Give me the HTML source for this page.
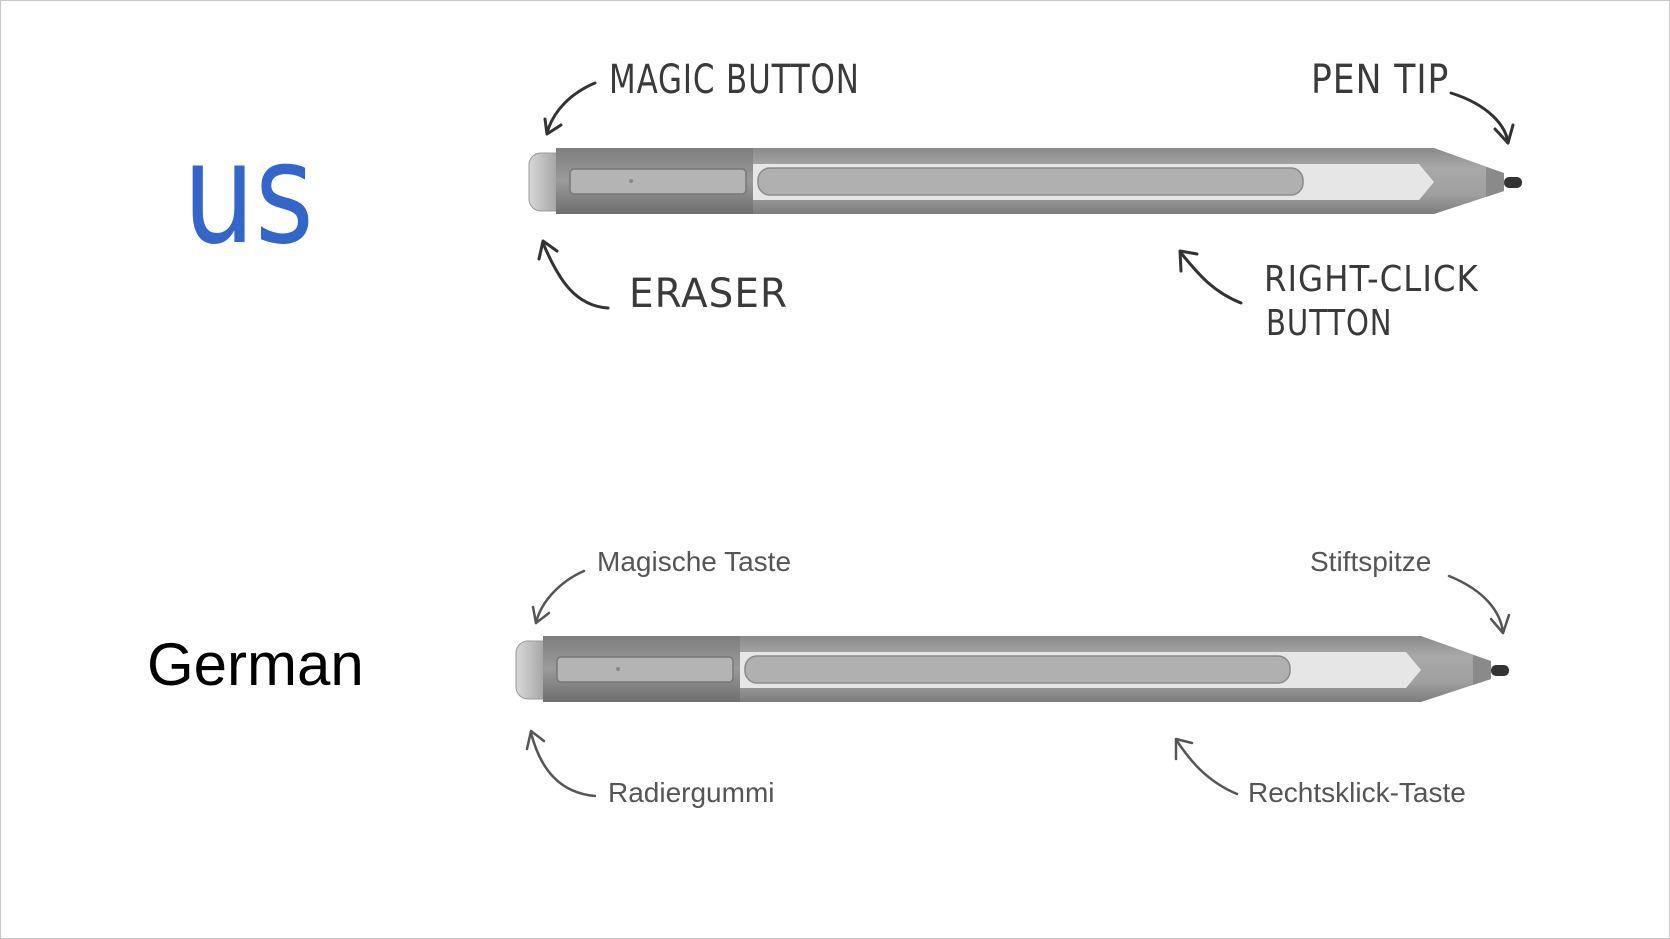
<!DOCTYPE html>
<html><head><meta charset="utf-8"><style>
html,body{margin:0;padding:0;background:#fff}
#c{position:relative;width:1668px;height:937px;border:1px solid #c8c8c8;overflow:hidden}
.hw{position:absolute;font-family:"DejaVu Sans Condensed","Liberation Sans Narrow","Liberation Sans",sans-serif;color:#3a3a3a;letter-spacing:1px;transform-origin:0 0}
.de{position:absolute;font-family:"Liberation Sans Narrow","Liberation Sans",sans-serif;color:#555;font-size:28px}
svg{position:absolute;left:0;top:0}
</style></head><body><div id="c">
<svg width="1670" height="939" viewBox="0 0 1670 939">
<defs>
<linearGradient id="bd" x1="0" y1="0" x2="0" y2="1">
<stop offset="0" stop-color="#8a8a8a"/><stop offset="0.3" stop-color="#a8a8a8"/><stop offset="0.7" stop-color="#a0a0a0"/><stop offset="1" stop-color="#7c7c7c"/></linearGradient>
<linearGradient id="dk" x1="0" y1="0" x2="0" y2="1">
<stop offset="0" stop-color="#7e7e7e"/><stop offset="0.5" stop-color="#9a9a9a"/><stop offset="1" stop-color="#6e6e6e"/></linearGradient>
<linearGradient id="cap" x1="0" y1="0" x2="1" y2="0">
<stop offset="0" stop-color="#d8d8d8"/><stop offset="1" stop-color="#909090"/></linearGradient>
<g id="pen">
<rect x="528" y="152" width="40" height="58" rx="12" fill="url(#cap)" stroke="#999"/>
<path d="M555 147 L1433 147 L1503 172 L1503 190 L1433 213 L555 213 Z" fill="url(#bd)"/>
<rect x="555" y="147" width="197" height="66" fill="url(#dk)"/>
<path d="M752 163 L1418 163 L1433 181 L1418 199 L752 199 Z" fill="#e6e6e6"/>
<rect x="569" y="168" width="176" height="25" rx="4" fill="#b4b4b4" stroke="#777" stroke-width="1.5"/>
<circle cx="630" cy="180" r="2" fill="#888"/>
<rect x="757" y="167" width="545" height="27" rx="12" fill="#b0b0b0" stroke="#8a8a8a" stroke-width="1.5"/>
<path d="M1485 166 L1503 172 L1503 190 L1485 196 Z" fill="#8a8a8a"/>
<rect x="1503" y="176" width="18" height="11" rx="5" fill="#333"/>
</g>
</defs>
<use href="#pen"/>
<use href="#pen" transform="translate(-13,488)"/>
<g fill="none" stroke="#333" stroke-width="3" stroke-linecap="round" stroke-linejoin="round">
<path d="M594 82 C570 92 552 110 546 132"/><path d="M544 118 L546 133 L560 124"/>
<path d="M1450 92 C1488 104 1505 125 1507 142"/><path d="M1494 128 L1507 142 L1512 124"/>
<path d="M607 307 C575 305 558 280 542 242"/><path d="M538 258 L542 240 L556 250"/>
<path d="M1240 302 C1210 290 1195 270 1180 252"/><path d="M1180 270 L1179 250 L1196 253"/>
</g>
<g fill="none" stroke="#555" stroke-width="2.5" stroke-linecap="round" stroke-linejoin="round">
<path d="M583 570 C560 580 540 600 535 622"/><path d="M532 606 L535 622 L548 612"/>
<path d="M1448 575 C1485 590 1500 612 1502 632"/><path d="M1490 618 L1502 632 L1508 614"/>
<path d="M594 795 C560 792 540 770 530 732"/><path d="M526 748 L530 730 L543 740"/>
<path d="M1236 793 C1205 780 1188 758 1176 740"/><path d="M1175 758 L1175 738 L1191 742"/>
</g>
</svg>
<div style="position:absolute;left:182px;top:124px;font-family:'DejaVu Sans Condensed','Liberation Sans Narrow',sans-serif;font-size:140px;color:#3366c8;line-height:1;transform:scaleX(0.9);transform-origin:0 0">us</div>
<div style="position:absolute;left:146px;top:634px;font-family:'Liberation Sans',sans-serif;font-size:60px;color:#000;line-height:1">German</div>
<div class="hw" style="left:608px;top:56px;font-size:40px;transform:scaleX(0.86)">MAGIC BUTTON</div>
<div class="hw" style="left:1310px;top:56px;font-size:40px;transform:scaleX(0.96)">PEN TIP</div>
<div class="hw" style="left:628px;top:270px;font-size:40px;transform:scaleX(1.08)">ERASER</div>
<div class="hw" style="left:1263px;top:258px;font-size:36px">RIGHT-CLICK</div>
<div class="hw" style="left:1265px;top:302px;font-size:36px;transform:scaleX(0.9)">BUTTON</div>
<div class="de" style="left:596px;top:545px">Magische Taste</div>
<div class="de" style="left:1309px;top:545px">Stiftspitze</div>
<div class="de" style="left:607px;top:776px">Radiergummi</div>
<div class="de" style="left:1247px;top:776px">Rechtsklick-Taste</div>
</div></body></html>
